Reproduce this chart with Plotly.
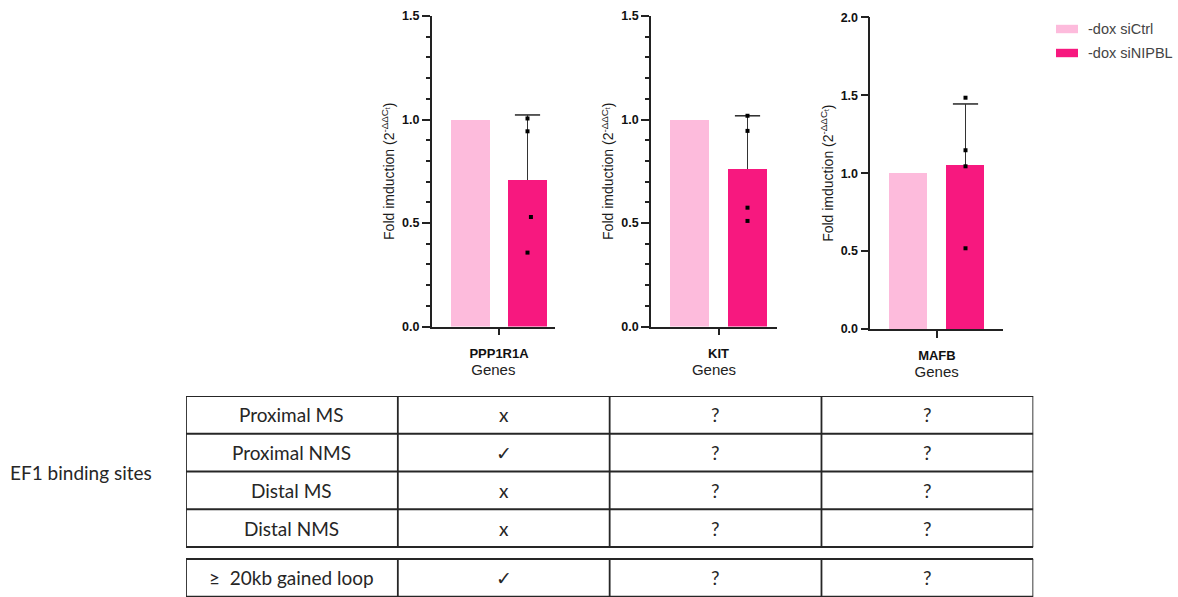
import plotly.graph_objects as go

W, H = 1178, 597

# ---------------- data ----------------
genes = ["PPP1R1A", "KIT", "MAFB"]
series_names = ["-dox siCtrl", "-dox siNIPBL"]
ctrl_values = [1.0, 1.0, 1.0]
nipbl_values = [0.708, 0.762, 1.048]
nipbl_sd = [0.314, 0.256, 0.396]
ppp1r1a_points = [1.005, 0.943, 0.529, 0.357]
kit_points = [1.018, 0.945, 0.574, 0.510]
mafb_points = [1.484, 1.147, 1.044, 0.518]
ppp1r1a_jitter = [0.0, 0.0, 0.06, 0.0]
kit_jitter = [0.0, 0.0, 0.0, 0.0]
mafb_jitter = [0.0, 0.0, 0.0, 0.0]
y_max = [1.5, 1.5, 2.0]
y_ticks_15 = [0.0, 0.5, 1.0, 1.5]
y_ticks_20 = [0.0, 0.5, 1.0, 1.5, 2.0]

row_labels = ["Proximal MS", "Proximal NMS", "Distal MS", "Distal NMS"]
ppp1r1a_col = ["x", "\u2713", "x", "x"]
kit_col = ["?", "?", "?", "?"]
mafb_col = ["?", "?", "?", "?"]
loop_label = "\u2265\u00a0 20kb gained loop"
loop_values = ["\u2713", "?", "?"]
group_label = "EF1 binding sites"

# ---------------- style ----------------
LIGHT = "#FDBBDC"
DARK = "#F7187F"
AX = "#222222"
FONT = "Liberation Sans, Arial, sans-serif"
TFONT = "Lato, Open Sans, sans-serif"

points_all = [ppp1r1a_points, kit_points, mafb_points]
jitter_all = [ppp1r1a_jitter, kit_jitter, mafb_jitter]
ticks_all = [y_ticks_15, y_ticks_15, y_ticks_20]
minor_all = [True, True, False]

# pixel geometry of each chart panel
geo = [
    dict(x0=431.7, x1=555.0, y0=326.5, y1=16.0, c0=470.5, c1=527.5, bw=39.0),
    dict(x0=651.0, x1=777.0, y0=326.5, y1=16.0, c0=689.5, c1=747.5, bw=39.0),
    dict(x0=870.3, x1=1003.0, y0=329.0, y1=17.3, c0=908.3, c1=965.5, bw=38.5),
]

fig = go.Figure()
layout = {}
for i, g in enumerate(geo):
    n = "" if i == 0 else str(i + 1)
    xa, ya = "x" + n, "y" + n
    unit = g["c1"] - g["c0"]
    bw = g["bw"] / unit
    top = nipbl_values[i] + nipbl_sd[i]
    fig.add_trace(go.Bar(x=[0], y=[ctrl_values[i]], width=bw, marker=dict(color=LIGHT, line=dict(width=0)),
                         name=series_names[0], showlegend=False, xaxis=xa, yaxis=ya))
    fig.add_trace(go.Bar(x=[1], y=[nipbl_values[i]], width=bw, marker=dict(color=DARK, line=dict(width=0)),
                         name=series_names[1], showlegend=False, xaxis=xa, yaxis=ya,
                         error_y=dict(type="data", symmetric=False, array=[nipbl_sd[i]], arrayminus=[0],
                                      color="#333333", thickness=1.6, width=0)))
    # error-bar cap (SD) drawn as a horizontal line marker at mean + SD
    fig.add_trace(go.Scatter(x=[1], y=[top], mode="markers",
                             marker=dict(symbol="line-ew", size=18, line=dict(width=1.6, color="#333333")),
                             showlegend=False, cliponaxis=False, xaxis=xa, yaxis=ya))
    fig.add_trace(go.Scatter(x=[1 + j for j in jitter_all[i]], y=points_all[i], mode="markers",
                             marker=dict(symbol="square", size=4, color="black", line=dict(width=0)),
                             showlegend=False, cliponaxis=False, xaxis=xa, yaxis=ya))
    xr = [-(g["c0"] - g["x0"]) / unit, 1 + (g["x1"] - g["c1"]) / unit]
    layout["xaxis" + n] = dict(
        domain=[g["x0"] / W, g["x1"] / W], range=xr, anchor=ya, fixedrange=True,
        tickvals=[0.5], ticktext=[genes[i]], ticks="outside", ticklen=7, tickwidth=1.5, tickcolor=AX,
        tickfont=dict(family=FONT, size=13, color="#111111", weight="bold"), ticklabelstandoff=7,
        showline=True, linewidth=1.5, linecolor=AX, showgrid=False, zeroline=False,
        title=dict(text="Genes", font=dict(family=FONT, size=15, color="#222222"), standoff=1),
        automargin=False,
    )
    yd = dict(
        domain=[1 - g["y0"] / H, 1 - g["y1"] / H], range=[0, y_max[i]], anchor=xa, fixedrange=True,
        tickvals=ticks_all[i], ticktext=["%.1f" % v for v in ticks_all[i]],
        ticks="outside", ticklen=8, tickwidth=1.5, tickcolor=AX,
        tickfont=dict(family=FONT, size=12.5, color="#111111", weight="bold"),
        showline=True, linewidth=1.5, linecolor=AX, showgrid=False, zeroline=False,
        title=dict(text="Fold imduction (2<sup>-\u0394\u0394C<sub>t</sub></sup>)",
                   font=dict(family=FONT, size=14, color="#1a1a1a"), standoff=4),
        automargin=False,
    )
    if minor_all[i]:
        yd["minor"] = dict(dtick=0.1, ticks="outside", ticklen=4, tickwidth=1.5, tickcolor=AX, showgrid=False)
    layout["yaxis" + n] = yd

# ---------------- table (on hidden axes) ----------------
row_h = 37.75
tab_top = 396.0
gap = 12.0 / row_h
n_rows = len(row_labels)
ncols = 1 + len(genes)
layout["xaxis4"] = dict(domain=[186.0 / W, 1033.3 / W], range=[0, ncols], visible=False, fixedrange=True, anchor="y4")
layout["yaxis4"] = dict(domain=[0, 1 - tab_top / H], range=[(H - tab_top) / row_h, 0], visible=False,
                        fixedrange=True, anchor="x4")

shapes = []
annotations = []
LINE = dict(color="#262626", width=1.8)
for r in range(n_rows + 1):
    shapes.append(dict(type="line", xref="x4", yref="y4", x0=0, x1=ncols, y0=r, y1=r, line=LINE))
for c in range(ncols + 1):
    shapes.append(dict(type="line", xref="x4", yref="y4", x0=c, x1=c, y0=0, y1=n_rows, line=LINE))
lo0, lo1 = n_rows + gap, n_rows + gap + 1
for yv in (lo0, lo1):
    shapes.append(dict(type="line", xref="x4", yref="y4", x0=0, x1=ncols, y0=yv, y1=yv, line=LINE))
for c in range(ncols + 1):
    shapes.append(dict(type="line", xref="x4", yref="y4", x0=c, x1=c, y0=lo0, y1=lo1, line=LINE))

tfont = dict(family=TFONT, size=19, color="#262626")
cols = [row_labels, ppp1r1a_col, kit_col, mafb_col]
for c, col in enumerate(cols):
    for r, txt in enumerate(col):
        annotations.append(dict(xref="x4", yref="y4", x=c + 0.5, y=r + 0.5, text=txt, showarrow=False,
                                font=tfont, xanchor="center", yanchor="middle"))
for c, txt in enumerate([loop_label] + loop_values):
    annotations.append(dict(xref="x4", yref="y4", x=c + 0.5, y=lo0 + 0.5, text=txt, showarrow=False,
                            font=tfont, xanchor="center", yanchor="middle"))
annotations.append(dict(xref="paper", yref="paper", x=8.0 / W, y=1 - 473.0 / H, text=group_label,
                        showarrow=False, font=tfont, xanchor="left", yanchor="middle"))

# ---------------- legend (custom) ----------------
leg_colors = [LIGHT, DARK]
for k, (nm, colr) in enumerate(zip(series_names, leg_colors)):
    yc = 29.0 + 24.0 * k
    shapes.append(dict(type="rect", xref="paper", yref="paper", x0=1056.0 / W, x1=1078.0 / W,
                       y0=1 - (yc + 4.2) / H, y1=1 - (yc - 4.2) / H, fillcolor=colr, line=dict(width=0)))
    annotations.append(dict(xref="paper", yref="paper", x=1086.0 / W, y=1 - yc / H, text=nm, showarrow=False,
                            font=dict(family=FONT, size=14.5, color="#444444"), xanchor="left", yanchor="middle"))

fig.update_layout(
    width=W, height=H, margin=dict(l=0, r=0, t=0, b=0, pad=0),
    paper_bgcolor="white", plot_bgcolor="white", showlegend=False,
    bargap=0, shapes=shapes, annotations=annotations, font=dict(family=FONT),
    **layout,
)
fig.write_html("out.html")
